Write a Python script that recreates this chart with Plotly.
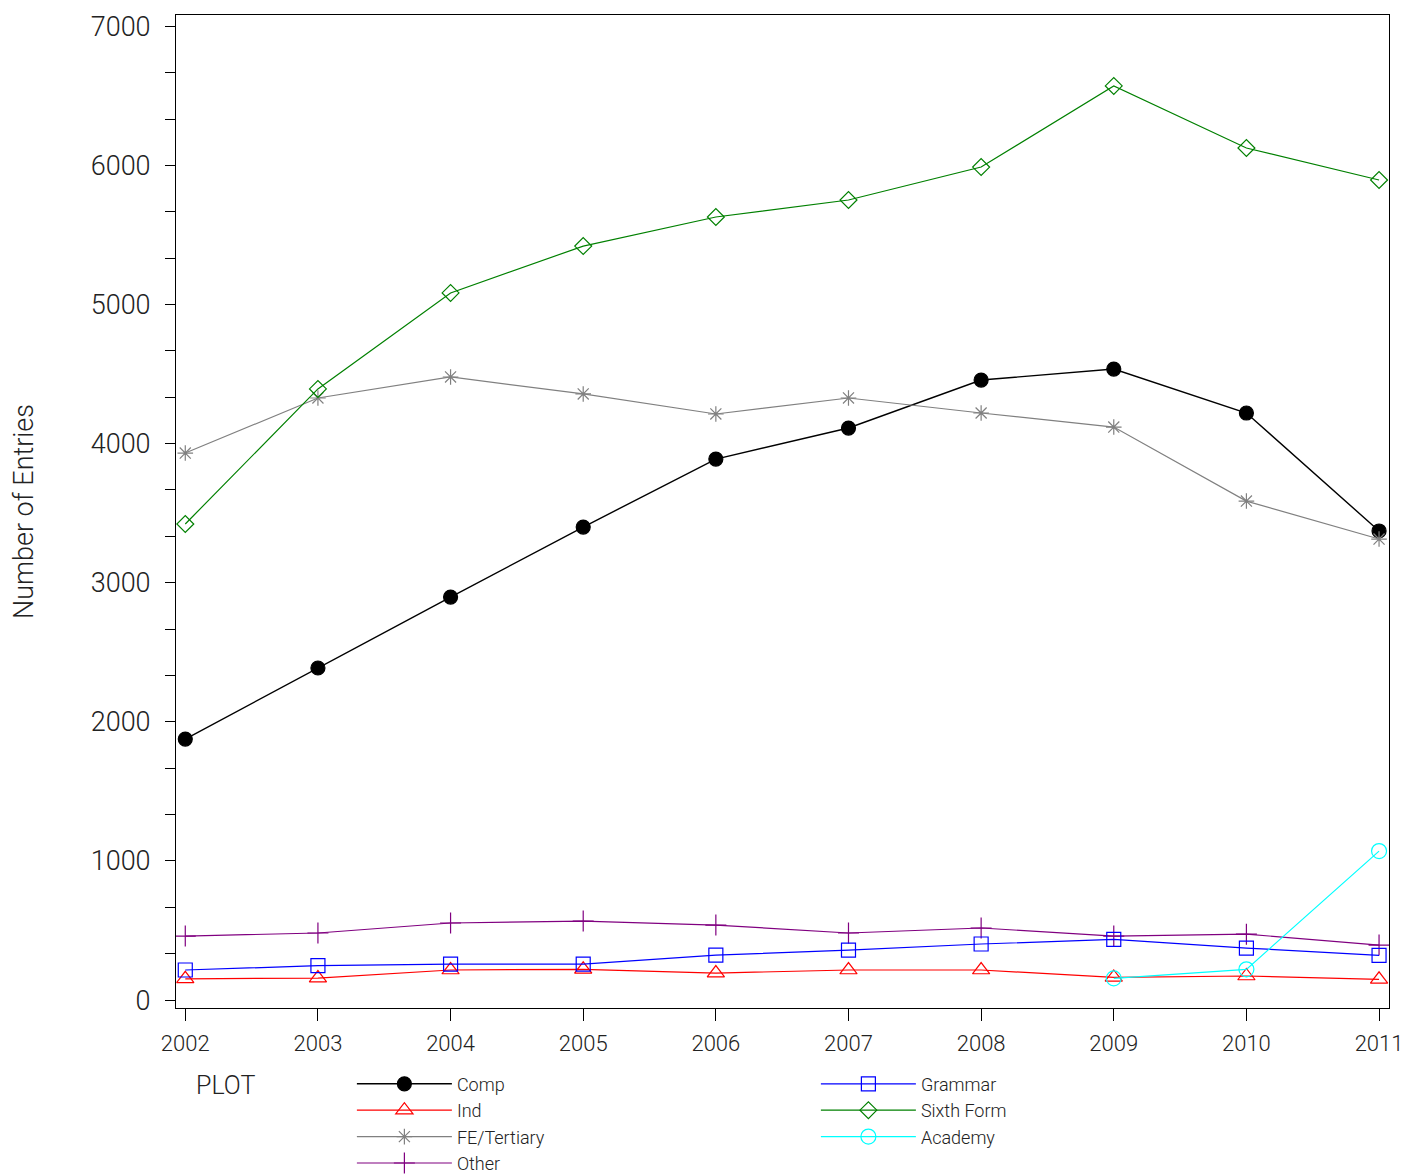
import plotly.graph_objects as go

years = [2002, 2003, 2004, 2005, 2006, 2007, 2008, 2009, 2010, 2011]

comp = [1876, 2387, 2897, 3400, 3889, 4112, 4457, 4536, 4220, 3372]
ind = [153, 158, 216, 221, 194, 216, 216, 163, 173, 149]
fe_tertiary = [3932, 4328, 4479, 4357, 4213, 4328, 4220, 4119, 3587, 3314]
other = [460, 482, 554, 568, 539, 482, 518, 460, 474, 395]
grammar = [216, 247, 259, 259, 323, 359, 403, 436, 374, 321]
sixth_form = [3422, 4393, 5083, 5420, 5629, 5751, 5988, 6571, 6125, 5895]
academy = [None, None, None, None, None, None, None, 156, 221, 1071]

y_ticks = [0, 1000, 2000, 3000, 4000, 5000, 6000, 7000]

series = [
    ("Comp", comp, "#000000", "circle", 14, 1.4, 1),
    ("Ind", ind, "#ff0000", "triangle-up-open", 15, 1.2, 3),
    ("FE/Tertiary", fe_tertiary, "#808080", "asterisk-open", 13, 1.2, 5),
    ("Other", other, "#800080", "cross-thin-open", 15, 1.2, 7),
    ("Grammar", grammar, "#0000ff", "square-open", 14, 1.2, 2),
    ("Sixth Form", sixth_form, "#008000", "diamond-open", 13, 1.2, 4),
    ("Academy", academy, "#00ffff", "circle-open", 15, 1.2, 6),
]

fig = go.Figure()
for name, vals, color, sym, size, lw, rank in series:
    fig.add_trace(go.Scatter(
        x=years, y=vals, name=name, mode="lines+markers",
        line=dict(color=color, width=lw),
        marker=dict(symbol=sym, size=size, color=color,
                    line=dict(color=color, width=1.2)),
        legendrank=rank,
    ))

font_family = "Roboto, Liberation Sans, sans-serif"
txt_color = "#222222"

fig.add_annotation(
    text="PLOT", xref="paper", yref="paper", x=0.015, y=-0.061,
    xanchor="left", yanchor="top", showarrow=False,
    font=dict(size=25, family=font_family, weight=300, color=txt_color),
)

fig.update_layout(
    width=1418, height=1176,
    margin=dict(l=168, r=37, t=7, b=176, autoexpand=False),
    paper_bgcolor="white", plot_bgcolor="white",
    font=dict(family=font_family, color=txt_color, weight=300),
    showlegend=True,
    legend=dict(
        orientation="h", x=0.145, xanchor="left", y=-0.058, yanchor="top",
        font=dict(size=18, family=font_family, weight=300),
        entrywidth=354, entrywidthmode="pixels",
        itemwidth=95, tracegroupgap=0,
        bgcolor="rgba(0,0,0,0)",
    ),
    xaxis=dict(
        range=[2001.93, 2011.075],
        tickmode="array", tickvals=years, ticktext=[str(y) for y in years],
        ticks="outside", ticklen=12, tickcolor="#000", tickwidth=1,
        showline=True, linecolor="#000", linewidth=1, mirror=True,
        showgrid=False, zeroline=False, automargin=False,
        ticklabelstandoff=4,
        tickfont=dict(size=22, family=font_family, weight=300),
    ),
    yaxis=dict(
        range=[-57, 7081],
        tickmode="array", tickvals=y_ticks, ticktext=[str(v) for v in y_ticks],
        ticks="outside", ticklen=10, tickcolor="#000", tickwidth=1,
        minor=dict(tick0=0, dtick=1000 / 3, ticks="outside", ticklen=10,
                   tickcolor="#000", tickwidth=1, showgrid=False),
        showline=True, linecolor="#000", linewidth=1, mirror=True,
        showgrid=False, zeroline=False, automargin=False,
        ticklabelstandoff=9,
        tickfont=dict(size=27, family=font_family, weight=300),
        title=dict(text="Number of Entries", standoff=50,
                   font=dict(size=27, family=font_family, weight=300)),
    ),
)

fig.write_html("out.html")
